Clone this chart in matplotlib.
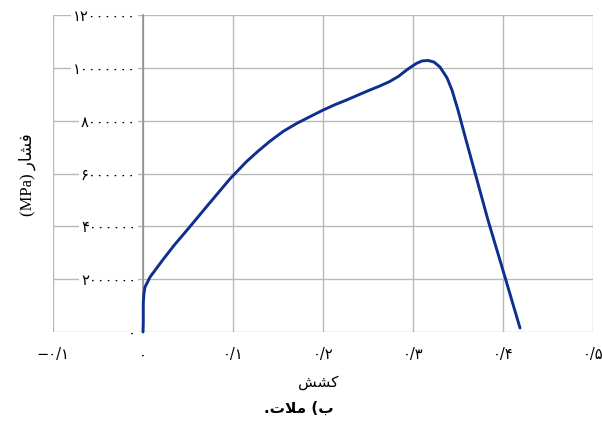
import matplotlib
matplotlib.use("Agg")
import matplotlib.pyplot as plt
from matplotlib.ticker import FuncFormatter, FixedLocator

# ---- data ----
strain = [0.0, 0.0003, 0.0003, 0.0010, 0.0022, 0.0078, 0.022, 0.035, 0.050, 0.072,
          0.0967, 0.115, 0.128, 0.141, 0.156, 0.171, 0.186, 0.200, 0.213, 0.226,
          0.239, 0.252, 0.263, 0.274, 0.284, 0.293, 0.299, 0.304, 0.310, 0.3167,
          0.3233, 0.330, 0.3378, 0.3433, 0.350, 0.3589, 0.3833, 0.4022, 0.4189]
stress = [0.0, 0.38e6, 1.10e6, 1.45e6, 1.70e6, 2.08e6, 2.73e6, 3.30e6, 3.90e6, 4.80e6,
          5.80e6, 6.45e6, 6.85e6, 7.22e6, 7.60e6, 7.90e6, 8.16e6, 8.40e6, 8.60e6, 8.78e6,
          8.97e6, 9.16e6, 9.31e6, 9.48e6, 9.68e6, 9.92e6, 10.06e6, 10.17e6, 10.26e6, 10.28e6,
          10.22e6, 10.03e6, 9.62e6, 9.16e6, 8.40e6, 7.27e6, 4.24e6, 2.08e6, 0.15e6]

x_ticks = [-0.1, 0.0, 0.1, 0.2, 0.3, 0.4, 0.5]
y_ticks = [0, 2000000, 4000000, 6000000, 8000000, 10000000, 12000000]

# Persian texts written in visual (pre-shaped, left-to-right) order
x_label = "\uFEB6\uFEB8\uFB90"                       # کشش
y_label = "(MPa) " + "\uFEAD\uFE8E\uFEB8\uFED3"      # فشار (MPa)
caption = ".\uFE95\uFEFC\uFEE3 (\uFE8F"              # ب) ملات.

PERSIAN = str.maketrans("0123456789", "۰۱۲۳۴۵۶۷۸۹")


def fmt_x(v, pos):
    if abs(v) < 1e-9:
        return "۰"
    s = f"{abs(v):.1f}".replace(".", "/").translate(PERSIAN)
    return ("−" if v < 0 else "") + s


def fmt_y(v, pos):
    return str(int(round(v))).translate(PERSIAN)


fig = plt.figure(figsize=(6.02, 4.28), dpi=100)
ax = fig.add_axes([53 / 602, 96 / 428, 540 / 602, 317 / 428])

ax.set_xlim(-0.1, 0.5)
ax.set_ylim(0, 12000000)

for s in ["top", "right", "bottom"]:
    ax.spines[s].set_visible(False)
ax.spines["left"].set_position(("data", 0))
ax.spines["left"].set_color("#8a8a8a")
ax.spines["left"].set_linewidth(1.1)

ax.xaxis.set_major_locator(FixedLocator(x_ticks))
ax.yaxis.set_major_locator(FixedLocator(y_ticks))
ax.xaxis.set_major_formatter(FuncFormatter(fmt_x))
ax.yaxis.set_major_formatter(FuncFormatter(fmt_y))

ax.grid(True, color="#b8b8b8", linewidth=1.0)
ax.tick_params(axis="both", length=0)
ax.tick_params(axis="x", pad=11, labelsize=10.5)
ax.tick_params(axis="y", pad=5, labelsize=10.5)
for lbl in ax.get_xticklabels() + ax.get_yticklabels():
    lbl.set_fontfamily(["DejaVu Sans"])
for lbl in ax.get_yticklabels():
    lbl.set_bbox(dict(facecolor="white", edgecolor="none", pad=1.5))

ax.plot(strain, stress, color="#0d2f8f", linewidth=2.1, solid_joinstyle="round",
        solid_capstyle="round", zorder=5, clip_on=False)

fig.text(318 / 602, 1 - 383 / 428, x_label, ha="center", va="center",
         fontsize=11, family=["DejaVu Sans"])
fig.text(27 / 602, 1 - 175 / 428, y_label, ha="center", va="center", rotation=90,
         fontsize=12, family=["Liberation Serif", "DejaVu Sans"])
fig.text(299 / 602, 1 - 408 / 428, caption, ha="center", va="center",
         fontsize=11, fontweight="bold", family=["DejaVu Sans"])

fig.savefig("out.png", dpi=100)
